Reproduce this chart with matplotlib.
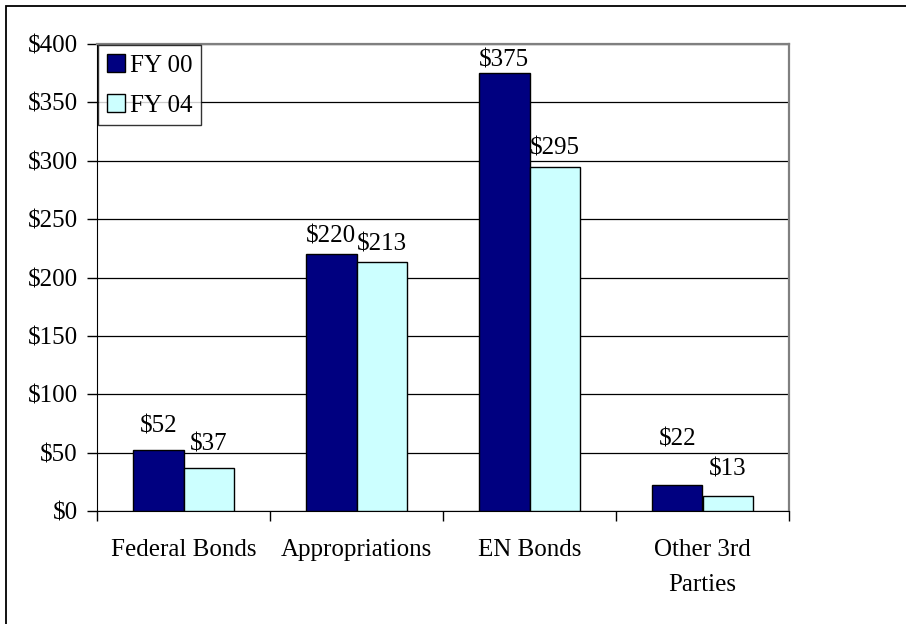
import matplotlib
matplotlib.use("Agg")
import matplotlib.pyplot as plt
from matplotlib.patches import Rectangle
import numpy as np

categories = ["Federal Bonds", "Appropriations", "EN Bonds", "Other 3rd\nParties"]
series_names = ["FY 00", "FY 04"]
fy00 = [52, 220, 375, 22]
fy04 = [37, 213, 295, 13]
yticks = [0, 50, 100, 150, 200, 250, 300, 350, 400]
label_offsets00 = [9, 5, 1, 25]
label_offsets04 = [9, 5, 5, 11]

plt.rcParams['font.family'] = ['Liberation Serif', 'DejaVu Serif']
FS = 18

W, H = 906, 624
fig = plt.figure(figsize=(W / 100, H / 100), dpi=100)
fig.patch.set_facecolor('white')
# outer chart border (only top and left visible in the reference)
fig.patches.append(Rectangle((6 / W, -0.1), 1.2, 1 - 6 / H + 0.1,
                             transform=fig.transFigure, fill=False,
                             edgecolor='black', lw=1.3))

ax = fig.add_axes([97 / W, 1 - 511 / H, (789 - 97) / W, (511 - 44) / H])
x = np.arange(len(categories))
bw = 0.29
b1 = ax.bar(x - bw / 2, fy00, bw, color='#000080', edgecolor='black', lw=1.0,
            label=series_names[0], zorder=3)
b2 = ax.bar(x + bw / 2, fy04, bw, color='#CCFFFF', edgecolor='black', lw=1.0,
            label=series_names[1], zorder=3)

for rect, v, off in zip(b1, fy00, label_offsets00):
    ax.annotate(f"${v}", (rect.get_x() + rect.get_width() / 2, v),
                xytext=(0, off), textcoords='offset points',
                ha='center', va='bottom', fontsize=FS, zorder=4,
                annotation_clip=False)
for rect, v, off in zip(b2, fy04, label_offsets04):
    ax.annotate(f"${v}", (rect.get_x() + rect.get_width() / 2, v),
                xytext=(0, off), textcoords='offset points',
                ha='center', va='bottom', fontsize=FS, zorder=4,
                annotation_clip=False)

ax.set_xlim(-0.5, len(categories) - 0.5)
ax.set_ylim(0, 400)
ax.set_yticks(yticks)
ax.set_yticklabels([f"${t}" for t in yticks], fontsize=FS)
ax.yaxis.grid(True, color='black', lw=0.9, zorder=0)
ax.set_axisbelow(True)

ax.set_xticks(x)
ax.set_xticklabels(categories, fontsize=FS, linespacing=1.75)
ax.tick_params(axis='x', which='major', length=0, pad=20)
ax.set_xticks(np.arange(len(categories) + 1) - 0.5, minor=True)
ax.tick_params(axis='x', which='minor', length=7, width=1, direction='out')
ax.tick_params(axis='y', length=7, width=1, direction='out', pad=7)

for s in ['top', 'right']:
    ax.spines[s].set_color('#808080')
    ax.spines[s].set_linewidth(1.6)
ax.spines['left'].set_color('black')
ax.spines['bottom'].set_color('black')

leg = ax.legend(loc='upper left', bbox_to_anchor=(0.0, 1.0), fontsize=FS,
                frameon=True, fancybox=False, edgecolor='black',
                handlelength=0.7, handleheight=0.7, handletextpad=0.2,
                borderpad=0.35, labelspacing=0.7, borderaxespad=0.05)
leg.get_frame().set_linewidth(1.0)

fig.savefig("out.png", dpi=100)
